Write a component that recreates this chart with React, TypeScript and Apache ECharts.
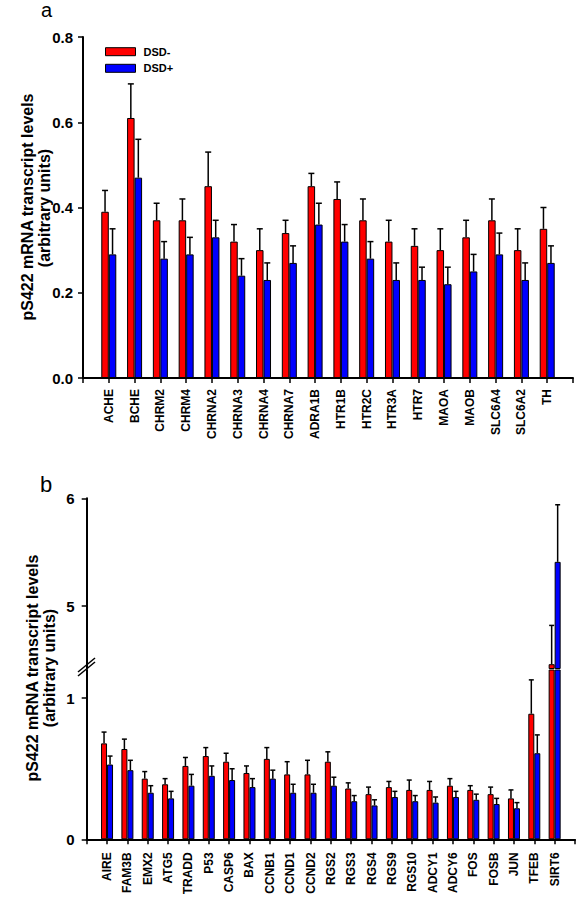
import React, { useEffect, useRef } from "react";
import * as echarts from "echarts";

// ---------- Panel a data ----------
const catsA = ["ACHE", "BCHE", "CHRM2", "CHRM4", "CHRNA2", "CHRNA3", "CHRNA4", "CHRNA7", "ADRA1B", "HTR1B", "HTR2C", "HTR3A", "HTR7", "MAOA", "MAOB", "SLC6A4", "SLC6A2", "TH"];
const minusA = [0.39, 0.61, 0.37, 0.37, 0.45, 0.32, 0.30, 0.34, 0.45, 0.42, 0.37, 0.32, 0.31, 0.30, 0.33, 0.37, 0.30, 0.35];
const minusErrA = [0.05, 0.08, 0.04, 0.05, 0.08, 0.04, 0.05, 0.03, 0.03, 0.04, 0.05, 0.05, 0.04, 0.05, 0.04, 0.05, 0.05, 0.05];
const plusA = [0.29, 0.47, 0.28, 0.29, 0.33, 0.24, 0.23, 0.27, 0.36, 0.32, 0.28, 0.23, 0.23, 0.22, 0.25, 0.29, 0.23, 0.27];
const plusErrA = [0.06, 0.09, 0.04, 0.04, 0.04, 0.04, 0.04, 0.04, 0.05, 0.04, 0.04, 0.04, 0.03, 0.04, 0.04, 0.05, 0.04, 0.04];
const ticksA = [0, 0.2, 0.4, 0.6, 0.8];

// ---------- Panel b data ----------
const catsB = ["AIRE", "FAM3B", "EMX2", "ATG5", "TRADD", "P53", "CASP6", "BAX", "CCNB1", "CCND1", "CCND2", "RGS2", "RGS3", "RGS4", "RGS9", "RGS10", "ADCY1", "ADCY6", "FOS", "FOSB", "JUN", "TFEB", "SIRT6"];
const minusB = [0.68, 0.64, 0.43, 0.39, 0.52, 0.59, 0.55, 0.47, 0.57, 0.46, 0.46, 0.55, 0.36, 0.32, 0.37, 0.35, 0.35, 0.38, 0.35, 0.32, 0.29, 0.89, 4.46];
const minusErrB = [0.08, 0.07, 0.05, 0.04, 0.06, 0.06, 0.06, 0.05, 0.08, 0.09, 0.10, 0.07, 0.04, 0.05, 0.04, 0.07, 0.06, 0.05, 0.03, 0.05, 0.06, 0.24, 0.36];
const plusB = [0.53, 0.49, 0.33, 0.29, 0.38, 0.45, 0.42, 0.37, 0.43, 0.33, 0.33, 0.38, 0.27, 0.24, 0.30, 0.27, 0.26, 0.30, 0.28, 0.25, 0.22, 0.61, 5.41];
const plusErrB = [0.06, 0.07, 0.05, 0.05, 0.08, 0.07, 0.08, 0.06, 0.06, 0.06, 0.06, 0.06, 0.04, 0.04, 0.04, 0.04, 0.04, 0.04, 0.04, 0.04, 0.04, 0.13, 0.53];
const lowerTicksB = [0, 1];
const upperTicksB = [5, 6];
const lowerRangeB = [0, 1.2];
const upperRangeB = [4.42, 6];

const seriesNames = ["DSD-", "DSD+"];
const yTitle1 = "pS422 mRNA transcript levels";
const yTitle2 = "(arbitrary units)";

const FONT = '"Liberation Sans", Arial, Helvetica, sans-serif';
const RED = "#ff0000";
const BLUE = "#0000ff";

function padCats(c: string[]) {
  return ["", ...c, " "];
}
function padVals(v: (number | string)[]) {
  return ["-", ...v, "-"];
}

function errRender(offset: number, capHalf: number) {
  return (params: any, api: any) => {
    const c = api.value(0);
    const v = api.value(1);
    const e = api.value(2);
    const p0 = api.coord([c, v]);
    const p1 = api.coord([c, v + e]);
    const x = p0[0] + offset;
    return {
      type: "group",
      children: [
        { type: "line", shape: { x1: x, y1: p0[1], x2: x, y2: p1[1] }, style: { stroke: "#000", lineWidth: 1.5 } },
        { type: "line", shape: { x1: x - capHalf, y1: p1[1], x2: x + capHalf, y2: p1[1] }, style: { stroke: "#000", lineWidth: 1.5 } },
      ],
    };
  };
}

function errData(vals: number[], errs: number[], keep: (v: number) => boolean) {
  const out: number[][] = [];
  vals.forEach((v, i) => {
    if (keep(v)) out.push([i + 1, v, errs[i]]);
  });
  return out;
}

const axisLineStyle = { show: true, lineStyle: { color: "#000", width: 2 } };
const tickStyle = { show: true, length: 5, inside: false, lineStyle: { color: "#000", width: 1.5 } };

function xAxisCfg(grid: number, cats: string[], margin: number, show = true) {
  return {
    gridIndex: grid,
    type: "category",
    data: padCats(cats),
    boundaryGap: false,
    show,
    axisLine: axisLineStyle,
    axisTick: { ...tickStyle, interval: 0 },
    axisLabel: {
      interval: 0,
      rotate: 90,
      margin,
      color: "#000",
      fontFamily: FONT,
      fontWeight: "bold",
      fontSize: 12,
    },
    splitLine: { show: false },
  };
}

export default function App() {
  const ref = useRef<HTMLDivElement>(null);
  useEffect(() => {
    if (!ref.current) return;
    const chart = echarts.init(ref.current, null, { renderer: "svg" });
    const barItem = (color: string) => ({ color, borderColor: "#000", borderWidth: 1 });
    const titleStyle = (text: string) => ({ text, fontFamily: FONT, fontSize: 16, fontWeight: "bold", fill: "#000", align: "center", verticalAlign: "middle" });

    const option: any = {
      animation: false,
      backgroundColor: "#fff",
      textStyle: { fontFamily: FONT },
      legend: {
        data: seriesNames,
        orient: "vertical",
        left: 100,
        top: 40.7,
        itemWidth: 30,
        itemHeight: 8,
        itemGap: 4.6,
        icon: "rect",
        selectedMode: false,
        itemStyle: { borderColor: "#000", borderWidth: 1 },
        textStyle: { fontFamily: FONT, fontSize: 11, fontWeight: "bold", color: "#000", lineHeight: 12, padding: [0, 0, 0, 3] },
      },
      grid: [
        { left: 83, top: 37, width: 490, height: 341, outerBoundsMode: "none" },
        { left: 86.7, top: 670, width: 488.3, height: 169.3, outerBoundsMode: "none" },
        { left: 86.7, top: 498.3, width: 488.3, height: 170.2, outerBoundsMode: "none" },
      ],
      xAxis: [
        xAxisCfg(0, catsA, 11),
        xAxisCfg(1, catsB, 13),
        xAxisCfg(2, catsB, 13, false),
      ],
      yAxis: [
        {
          gridIndex: 0,
          type: "value",
          min: 0,
          max: 0.8,
          interval: 0.2,
          axisLine: axisLineStyle,
          axisTick: { ...tickStyle, customValues: ticksA },
          axisLabel: {
            customValues: ticksA,
            formatter: (v: number) => v.toFixed(1),
            margin: 10,
            color: "#000",
            fontFamily: FONT,
            fontWeight: "bold",
            fontSize: 15,
          },
          splitLine: { show: false },
        },
        {
          gridIndex: 1,
          type: "value",
          min: lowerRangeB[0],
          max: lowerRangeB[1],
          axisLine: axisLineStyle,
          axisTick: { ...tickStyle, customValues: lowerTicksB },
          axisLabel: {
            customValues: lowerTicksB,
            margin: 12,
            color: "#000",
            fontFamily: FONT,
            fontWeight: "bold",
            fontSize: 15,
          },
          splitLine: { show: false },
        },
        {
          gridIndex: 2,
          type: "value",
          min: upperRangeB[0],
          max: upperRangeB[1],
          axisLine: axisLineStyle,
          axisTick: { ...tickStyle, customValues: upperTicksB },
          axisLabel: {
            customValues: upperTicksB,
            margin: 12,
            color: "#000",
            fontFamily: FONT,
            fontWeight: "bold",
            fontSize: 15,
          },
          splitLine: { show: false },
        },
      ],
      series: [
        // Panel a
        { name: seriesNames[0], type: "bar", xAxisIndex: 0, yAxisIndex: 0, data: padVals(minusA), barWidth: 7.5, barGap: "0%", itemStyle: barItem(RED), clip: true },
        { name: seriesNames[1], type: "bar", xAxisIndex: 0, yAxisIndex: 0, data: padVals(plusA), barWidth: 7.5, barGap: "0%", itemStyle: barItem(BLUE), clip: true },
        { type: "custom", xAxisIndex: 0, yAxisIndex: 0, renderItem: errRender(-3.75, 3), data: errData(minusA, minusErrA, () => true), encode: { x: 0, y: 1 }, z: 5 },
        { type: "custom", xAxisIndex: 0, yAxisIndex: 0, renderItem: errRender(3.75, 3), data: errData(plusA, plusErrA, () => true), encode: { x: 0, y: 1 }, z: 5 },
        // Panel b lower
        { name: seriesNames[0], type: "bar", xAxisIndex: 1, yAxisIndex: 1, data: padVals(minusB), barWidth: 6, barGap: "0%", itemStyle: barItem(RED), clip: true },
        { name: seriesNames[1], type: "bar", xAxisIndex: 1, yAxisIndex: 1, data: padVals(plusB), barWidth: 6, barGap: "0%", itemStyle: barItem(BLUE), clip: true },
        { type: "custom", xAxisIndex: 1, yAxisIndex: 1, renderItem: errRender(-3, 2.5), data: errData(minusB, minusErrB, (v) => v < lowerRangeB[1]), encode: { x: 0, y: 1 }, z: 5 },
        { type: "custom", xAxisIndex: 1, yAxisIndex: 1, renderItem: errRender(3, 2.5), data: errData(plusB, plusErrB, (v) => v < lowerRangeB[1]), encode: { x: 0, y: 1 }, z: 5 },
        // Panel b upper (broken axis part)
        { name: seriesNames[0], type: "bar", xAxisIndex: 2, yAxisIndex: 2, data: padVals(minusB.map((v) => (v > upperRangeB[0] ? v : "-"))), barWidth: 6, barGap: "0%", itemStyle: barItem(RED), clip: true },
        { name: seriesNames[1], type: "bar", xAxisIndex: 2, yAxisIndex: 2, data: padVals(plusB.map((v) => (v > upperRangeB[0] ? v : "-"))), barWidth: 6, barGap: "0%", itemStyle: barItem(BLUE), clip: true },
        { type: "custom", xAxisIndex: 2, yAxisIndex: 2, renderItem: errRender(-3, 2.5), data: errData(minusB, minusErrB, (v) => v > upperRangeB[0]), encode: { x: 0, y: 1 }, z: 5 },
        { type: "custom", xAxisIndex: 2, yAxisIndex: 2, renderItem: errRender(3, 2.5), data: errData(plusB, plusErrB, (v) => v > upperRangeB[0]), encode: { x: 0, y: 1 }, z: 5 },
      ],
      graphic: [
        { type: "text", x: 46.5, y: 0, style: { text: "a", fontFamily: FONT, fontSize: 20, fill: "#000", align: "center", verticalAlign: "top" } },
        { type: "text", x: 46, y: 484, style: { text: "b", fontFamily: FONT, fontSize: 22, fill: "#000", align: "center", verticalAlign: "middle" } },
        { type: "text", x: 27, y: 207, rotation: Math.PI / 2, style: titleStyle(yTitle1) },
        { type: "text", x: 44, y: 208, rotation: Math.PI / 2, style: titleStyle(yTitle2) },
        { type: "text", x: 32, y: 668, rotation: Math.PI / 2, style: titleStyle(yTitle1) },
        { type: "text", x: 49, y: 668, rotation: Math.PI / 2, style: titleStyle(yTitle2) },
        { type: "line", shape: { x1: 78, y1: 672, x2: 95, y2: 658 }, style: { stroke: "#000", lineWidth: 1.5 } },
        { type: "line", shape: { x1: 78, y1: 676, x2: 95, y2: 662 }, style: { stroke: "#000", lineWidth: 1.5 } },
      ],
    };
    chart.setOption(option);
    return () => chart.dispose();
  }, []);
  return <div ref={ref} style={{ position: "absolute", left: 0, top: 0, width: 578, height: 900 }} />;
}
